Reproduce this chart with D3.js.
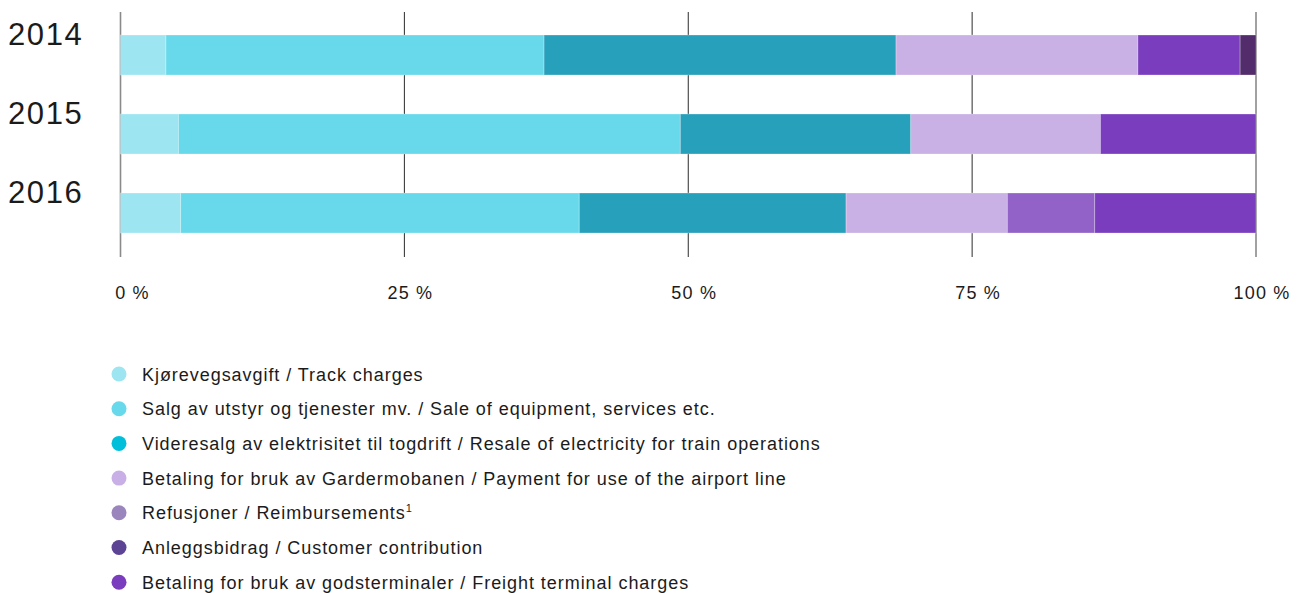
<!DOCTYPE html>
<html>
<head>
<meta charset="utf-8">
<script src="https://cdn.jsdelivr.net/npm/d3@7"></script>
<style>
  body { margin: 0; background: #fff; }
  text { font-family: "Liberation Sans", Arial, sans-serif; fill: #1b1b1b; }
</style>
</head>
<body>
<div id="d3-container"></div>
<script>
// DATA
const years = ["2014", "2015", "2016"];
const keys = ["track", "sale", "resale", "gardermo", "refusjoner", "anlegg", "godsterm"];
const stackOrder = ["track", "sale", "resale", "gardermo", "refusjoner", "godsterm", "anlegg"];
const track = [4.0, 5.1, 5.3];
const sale = [33.3, 44.2, 35.1];
const resale = [31.0, 20.3, 23.5];
const gardermo = [21.3, 16.7, 14.2];
const refusjoner = [0, 0, 7.7];
const anlegg = [1.4, 0, 0];
const godsterm = [9.0, 13.7, 14.2];
const ticks = [0, 25, 50, 75, 100];
const legendLabels = [
  "Kjørevegsavgift / Track charges",
  "Salg av utstyr og tjenester mv. / Sale of equipment, services etc.",
  "Videresalg av elektrisitet til togdrift / Resale of electricity for train operations",
  "Betaling for bruk av Gardermobanen / Payment for use of the airport line",
  "Refusjoner / Reimbursements",
  "Anleggsbidrag / Customer contribution",
  "Betaling for bruk av godsterminaler / Freight terminal charges"
];

const series = { track, sale, resale, gardermo, refusjoner, anlegg, godsterm };
const data = years.map((y, i) => {
  const row = { year: y };
  keys.forEach(k => row[k] = series[k][i]);
  return row;
});

/** CONSTANTS */
const width = 1298, height = 593;
const barColors = {
  track: "#9de5f1", sale: "#68d9ea", resale: "#27a0bc", gardermo: "#c9b0e5",
  refusjoner: "#9262c8", anlegg: "#532d6b", godsterm: "#7a3dbd"
};
const dotColors = ["#9de5f1", "#67d9ea", "#00bfdb", "#c8b0e6", "#9b85bd", "#5c4394", "#7a3dbd"];

/** SCALES */
const xScale = d3.scaleLinear().domain([0, 100]).range([120.5, 1256]);
const yScale = d3.scaleBand().domain(years).range([35, 233]).paddingInner(0.4937);

const svg = d3.select("#d3-container").append("svg")
  .attr("width", width).attr("height", height);

// grid lines
svg.append("g").selectAll("line")
  .data(ticks)
  .join("line")
  .attr("x1", d => xScale(d)).attr("x2", d => xScale(d))
  .attr("y1", 12).attr("y2", 257)
  .attr("stroke", d => (d === 0 || d === 100) ? "#8a8a8a" : "#2b2b2b")
  .attr("stroke-width", d => (d === 0 || d === 100) ? 1.6 : 1);

// stacked bars
const stacked = d3.stack().keys(stackOrder)(data);
svg.append("g").selectAll("g")
  .data(stacked)
  .join("g")
  .attr("fill", d => barColors[d.key])
  .selectAll("rect")
  .data(d => d.filter(s => s[1] - s[0] > 0))
  .join("rect")
  .attr("x", d => xScale(d[0]))
  .attr("y", d => yScale(d.data.year))
  .attr("width", d => xScale(d[1]) - xScale(d[0]))
  .attr("height", yScale.bandwidth())
  .attr("stroke", "rgba(255,255,255,0.35)")
  .attr("stroke-width", 0.8);

// year labels
svg.append("g").selectAll("text")
  .data(years)
  .join("text")
  .attr("x", 8)
  .attr("y", d => yScale(d) + 10)
  .attr("font-size", 31)
  .attr("letter-spacing", 1.6)
  .text(d => d);

// x axis labels
svg.append("g").selectAll("text")
  .data(ticks)
  .join("text")
  .attr("x", d => xScale(d) + (d === 0 ? 12 : 6))
  .attr("y", 299)
  .attr("text-anchor", "middle")
  .attr("font-size", 18)
  .attr("letter-spacing", 1.2)
  .text(d => d + " %");

// legend
const legend = svg.append("g").selectAll("g")
  .data(legendLabels)
  .join("g")
  .attr("transform", (d, i) => `translate(119, ${374 + i * 34.7})`);

legend.append("circle")
  .attr("r", 7.5)
  .attr("fill", (d, i) => dotColors[i]);

const lt = legend.append("text")
  .attr("x", 23)
  .attr("y", 6.5)
  .attr("font-size", 18)
  .attr("letter-spacing", 0.95)
  .text(d => d);

lt.filter((d, i) => i === 4)
  .append("tspan")
  .attr("font-size", 11)
  .attr("dy", -7)
  .text("1");
</script>
</body>
</html>
